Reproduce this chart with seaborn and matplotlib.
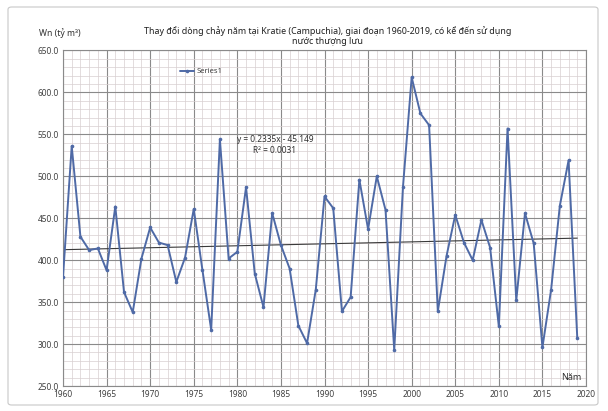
import matplotlib
matplotlib.use("Agg")
import matplotlib.pyplot as plt
from matplotlib.ticker import MultipleLocator, FormatStrFormatter
from matplotlib.patches import FancyBboxPatch
import numpy as np
import pandas as pd
import seaborn as sns

# Annual flow volume at Kratie, 1960-2019 (billion m3)
years = list(range(1960, 2020))
flow = [380, 536, 428, 412, 414, 388, 464, 362, 338, 402,
        439, 421, 418, 374, 403, 461, 388, 317, 544, 402,
        410, 487, 384, 344, 456, 418, 390, 322, 301, 365,
        476, 462, 339, 356, 496, 437, 500, 460, 293, 487,
        618, 575, 561, 339, 405, 454, 421, 400, 448, 415,
        321, 557, 352, 456, 420, 296, 365, 465, 519, 307]

# Linear trend as reported on the chart
trend_slope = 0.2335
trend_intercept = -45.149
trend_r2 = 0.0031

title_text = ("Thay đổi dòng chảy năm tại Kratie (Campuchia), giai đoạn 1960-2019, có kể đến sử dụng\n"
              "nước thượng lưu")
y_label = "Wn (tỷ m³)"
x_label = "Năm"

df = pd.DataFrame({"year": years, "flow": flow})
df["trend"] = trend_slope * df["year"] + trend_intercept

sns.set_theme(style="white")
plt.rcParams["font.family"] = ["Noto Sans", "DejaVu Sans"]

fig = plt.figure(figsize=(6.08, 4.11), dpi=100)
fig.patch.set_facecolor("white")
ax = fig.add_axes([63 / 608, 25 / 411, 523 / 608, 335.5 / 411])

# Outer chart frame
frame = FancyBboxPatch((8 / 608, 6 / 411), 590 / 608, 398 / 411,
                       boxstyle="round,pad=0,rounding_size=0.006",
                       transform=fig.transFigure, facecolor="none",
                       edgecolor="#c8c8c8", linewidth=0.8, zorder=0)
fig.patches.append(frame)

sns.lineplot(data=df, x="year", y="flow", ax=ax, color="#4f6aa6",
             linewidth=1.4, marker="o", markersize=2.6,
             markeredgewidth=0, label="Series1", zorder=3)
sns.lineplot(data=df, x="year", y="trend", ax=ax, color="#3a3a3a",
             linewidth=0.8, zorder=2, legend=False)

ax.set_xlim(1960, 2020)
ax.set_ylim(250, 650)
ax.xaxis.set_major_locator(MultipleLocator(5))
ax.xaxis.set_minor_locator(MultipleLocator(1))
ax.yaxis.set_major_locator(MultipleLocator(50))
ax.yaxis.set_minor_locator(MultipleLocator(10))
ax.yaxis.set_major_formatter(FormatStrFormatter("%.1f"))

ax.grid(which="major", color="#8a8a8a", linewidth=0.8)
ax.grid(which="minor", color="#d8cfd0", linewidth=0.5)
ax.set_axisbelow(True)
for s in ax.spines.values():
    s.set_color("#8a8a8a")
    s.set_linewidth(0.8)

ax.tick_params(axis="both", which="both", length=0, labelsize=6,
               colors="#404040", pad=3)
ax.set_xlabel("")
ax.set_ylabel("")

fig.text(60 / 608, 1 - 33 / 411, y_label, fontsize=6.2, color="#303030",
         ha="center", va="center")
ax.text(0.992, 0.012, x_label, transform=ax.transAxes, fontsize=6.5,
        color="#303030", ha="right", va="bottom")
fig.text(328 / 608, 1 - 36 / 411, title_text, fontsize=6.4, color="#202020",
         ha="center", va="center", linespacing=1.25)

ax.text(1984.3, 537, f"y = {trend_slope}x - {abs(trend_intercept)}\nR² = {trend_r2}",
        fontsize=6, color="#303030", ha="center", va="center", linespacing=1.3)

leg = ax.legend(loc="center", bbox_to_anchor=(0.265, 0.937), frameon=False,
                fontsize=5.5, handlelength=1.8, handletextpad=0.4)
for t in leg.get_texts():
    t.set_color("#404040")

fig.savefig("out.png", dpi=100, facecolor="white")
